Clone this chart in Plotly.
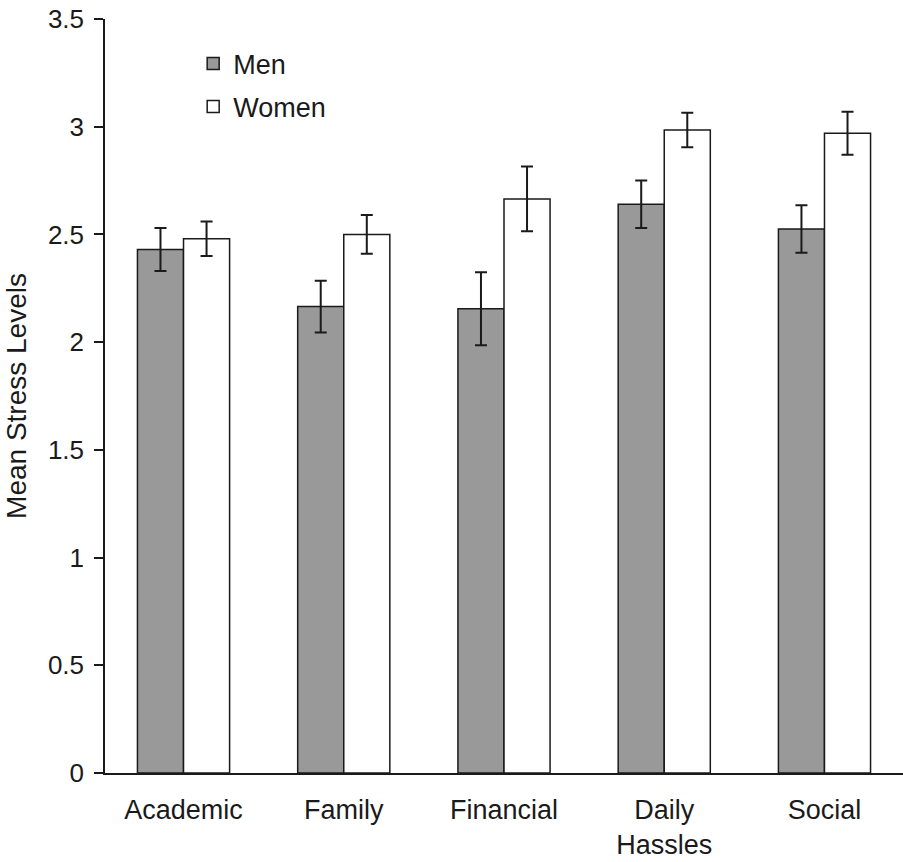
import plotly.graph_objects as go

categories = ["Academic", "Family", "Financial", "Daily Hassles", "Social"]
men_means = [2.43, 2.165, 2.155, 2.64, 2.525]
men_err = [0.10, 0.12, 0.17, 0.11, 0.11]
women_means = [2.48, 2.50, 2.665, 2.985, 2.97]
women_err = [0.08, 0.09, 0.15, 0.08, 0.10]
y_ticks = [0, 0.5, 1, 1.5, 2, 2.5, 3, 3.5]
y_ticktext = ["0", "0.5", "1", "1.5", "2", "2.5", "3", "3.5"]

FONT = "Liberation Sans, Arial, Helvetica, sans-serif"

fig = go.Figure()
fig.add_trace(go.Bar(
    name="Men", x=categories, y=men_means, legendgroup="men",
    marker=dict(color="#999999", line=dict(color="#1a1a1a", width=1.5)),
    error_y=dict(type="data", array=men_err, color="#1a1a1a", thickness=2, width=6),
))
fig.add_trace(go.Bar(
    name="Women", x=categories, y=women_means, legendgroup="women",
    marker=dict(color="#ffffff", line=dict(color="#1a1a1a", width=1.5)),
    error_y=dict(type="data", array=women_err, color="#1a1a1a", thickness=2, width=6),
))

fig.update_layout(
    width=903, height=862,
    margin=dict(l=105, r=0, t=19, b=89, autoexpand=False),
    paper_bgcolor="white", plot_bgcolor="white",
    barmode="group", bargap=0.425, bargroupgap=0,
    font=dict(family=FONT, size=27, color="#1a1a1a"),
    showlegend=True,
    legend=dict(x=0.1105, y=0.973, xanchor="left", yanchor="top",
                traceorder="grouped", tracegroupgap=5,
                bgcolor="rgba(0,0,0,0)", font=dict(size=27)),
)
fig.update_xaxes(
    type="category", range=[-0.49, 4.49],
    tickvals=categories,
    ticktext=[c.replace(" ", "<br>") for c in categories],
    showline=True, linecolor="#1a1a1a", linewidth=1.5,
    ticks="", showgrid=False, zeroline=False, automargin=False,
    ticklabelstandoff=12,
    tickfont=dict(size=27),
)
fig.update_yaxes(
    range=[0, 3.5], tickvals=y_ticks, ticktext=y_ticktext,
    showline=True, linecolor="#1a1a1a", linewidth=1.5,
    ticks="outside", ticklen=9, tickwidth=1.5, tickcolor="#1a1a1a",
    ticklabelstandoff=5, ticklabeloverflow="allow",
    showgrid=False, zeroline=False, automargin=False,
    tickfont=dict(size=26),
    title=dict(text="Mean Stress Levels", font=dict(size=28), standoff=13),
)

fig.write_html("out.html", config={"displayModeBar": False},
               post_script="document.body.style.margin='0';")
